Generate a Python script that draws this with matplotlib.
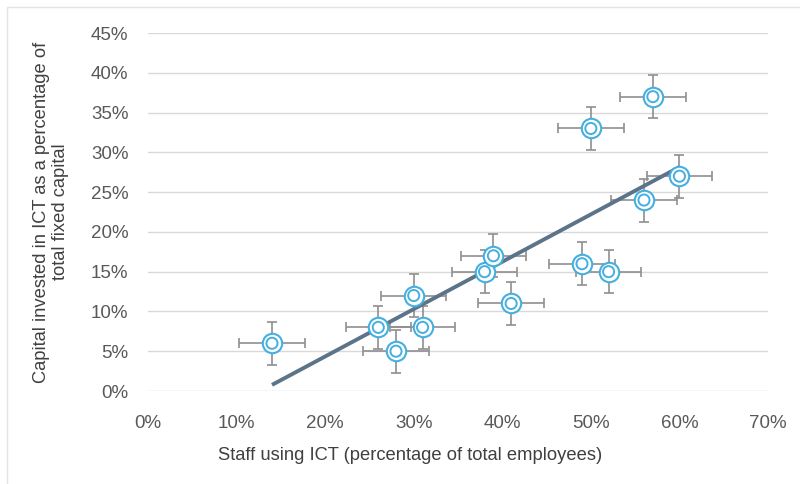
import numpy as np
import matplotlib
matplotlib.use("Agg")
import matplotlib.pyplot as plt
from matplotlib.patches import Rectangle

plt.rcParams['font.family'] = ['Liberation Sans', 'DejaVu Sans']

# Data (percent)
staff_ict = [14, 26, 28, 30, 31, 38, 39, 41, 49, 50, 52, 56, 57, 60]
capital_ict = [6, 8, 5, 12, 8, 15, 17, 11, 16, 33, 15, 24, 37, 27]
x_err = 3.7
y_err = 2.7
x_ticks = [0, 10, 20, 30, 40, 50, 60, 70]
y_ticks = [0, 5, 10, 15, 20, 25, 30, 35, 40, 45]

fig = plt.figure(figsize=(8, 4.84), dpi=100)
fig.patches.append(Rectangle((0.009, -0.02), 1.1, 1.005, transform=fig.transFigure,
                             fill=False, edgecolor='#e4e4e4', linewidth=1.0))
ax = fig.add_axes([148/800, 1 - 391/484, 620/800, (391-33)/484])

ax.set_xlim(0, 70)
ax.set_ylim(0, 45)
ax.set_yticks(y_ticks)
ax.set_xticks(x_ticks)
ax.set_yticklabels([f"{v}%" for v in y_ticks])
ax.set_xticklabels([f"{v}%" for v in x_ticks])
ax.yaxis.grid(True, color='#d9d9d9', linewidth=1.0)
ax.set_axisbelow(True)
for s in ax.spines.values():
    s.set_visible(False)
ax.tick_params(axis='both', length=0, labelsize=13.5, labelcolor='#595959')
ax.tick_params(axis='y', pad=14)
ax.tick_params(axis='x', pad=17)

# Trend line
coef = np.polyfit(staff_ict, capital_ict, 1)
xs = np.array([min(staff_ict), max(staff_ict)])
ax.plot(xs, np.polyval(coef, xs), color='#5b7489', linewidth=2.8, zorder=3,
        solid_capstyle='butt')

ax.errorbar(staff_ict, capital_ict, xerr=x_err, yerr=y_err, fmt='none',
            ecolor='#8f8f8f', elinewidth=1.2, capsize=3.6, capthick=1.2, zorder=2)

ax.scatter(staff_ict, capital_ict, s=14**2, facecolors='white', edgecolors='#45b0e0',
           linewidths=1.5, zorder=4)
ax.scatter(staff_ict, capital_ict, s=8**2, facecolors='none', edgecolors='#45b0e0',
           linewidths=1.4, zorder=5)

ax.set_xlabel("Staff using ICT (percentage of total employees)", fontsize=13.2,
              color='#404040', labelpad=9)
ax.xaxis.set_label_coords(0.423, -0.156)
ax.set_ylabel("Capital invested in ICT as a percentage of\ntotal fixed capital",
              fontsize=13.2, color='#404040', labelpad=16, linespacing=1.15)

fig.savefig("out.png", dpi=100)
